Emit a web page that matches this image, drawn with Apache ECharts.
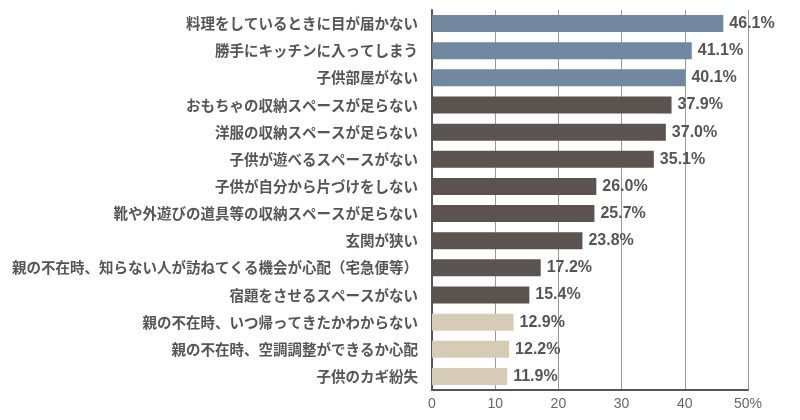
<!DOCTYPE html>
<html>
<head>
<meta charset="utf-8">
<script src="https://cdn.jsdelivr.net/npm/echarts@6/dist/echarts.min.js"></script>
<style>
html,body{margin:0;padding:0;background:#fff;}
#chart{width:800px;height:420px;}
</style>
</head>
<body>
<div id="chart"></div>
<script>
const categories = [
  "料理をしているときに目が届かない",
  "勝手にキッチンに入ってしまう",
  "子供部屋がない",
  "おもちゃの収納スペースが足らない",
  "洋服の収納スペースが足らない",
  "子供が遊べるスペースがない",
  "子供が自分から片づけをしない",
  "靴や外遊びの道具等の収納スペースが足らない",
  "玄関が狭い",
  "親の不在時、知らない人が訪ねてくる機会が心配（宅急便等）",
  "宿題をさせるスペースがない",
  "親の不在時、いつ帰ってきたかわからない",
  "親の不在時、空調調整ができるか心配",
  "子供のカギ紛失"
];
const values = [46.1, 41.1, 40.1, 37.9, 37.0, 35.1, 26.0, 25.7, 23.8, 17.2, 15.4, 12.9, 12.2, 11.9];
const groups = ["top", "top", "top", "mid", "mid", "mid", "mid", "mid", "mid", "mid", "mid", "low", "low", "low"];
const tickLabels = ["0", "10", "20", "30", "40", "50%"];

const groupColors = { top: "#7189a0", mid: "#5a5350", low: "#d6ccb5" };

const chart = echarts.init(document.getElementById("chart"));
chart.setOption({
  animation: false,
  backgroundColor: "#ffffff",
  grid: { left: 432, right: 52, top: 10, bottom: 30, containLabel: false },
  xAxis: {
    type: "value",
    min: 0,
    max: 50,
    interval: 10,
    axisLine: { show: true, lineStyle: { color: "#555", width: 2 } },
    axisTick: { show: false },
    splitLine: { show: true, lineStyle: { color: "#999", width: 1 } },
    axisLabel: {
      color: "#666",
      fontSize: 14,
      fontFamily: "Liberation Sans, Arial, sans-serif",
      margin: 7,
      formatter: function (v) { return tickLabels[Math.round(v / 10)]; }
    }
  },
  yAxis: {
    type: "category",
    inverse: true,
    data: categories,
    axisLine: { show: true, lineStyle: { color: "#555", width: 2 } },
    axisTick: { show: false },
    axisLabel: {
      color: "#555",
      fontSize: 14.5,
      fontWeight: "bold",
      fontFamily: "Noto Sans CJK JP, sans-serif",
      margin: 14
    }
  },
  series: [{
    type: "bar",
    data: values.map(function (v, i) {
      return { value: v, itemStyle: { color: groupColors[groups[i]] } };
    }),
    barWidth: 17,
    label: {
      show: true,
      position: "right",
      distance: 6,
      color: "#555",
      fontSize: 16,
      fontWeight: "bold",
      fontFamily: "Liberation Sans, Arial, sans-serif",
      formatter: function (p) { return p.value.toFixed(1) + "%"; }
    }
  }]
});
</script>
</body>
</html>
